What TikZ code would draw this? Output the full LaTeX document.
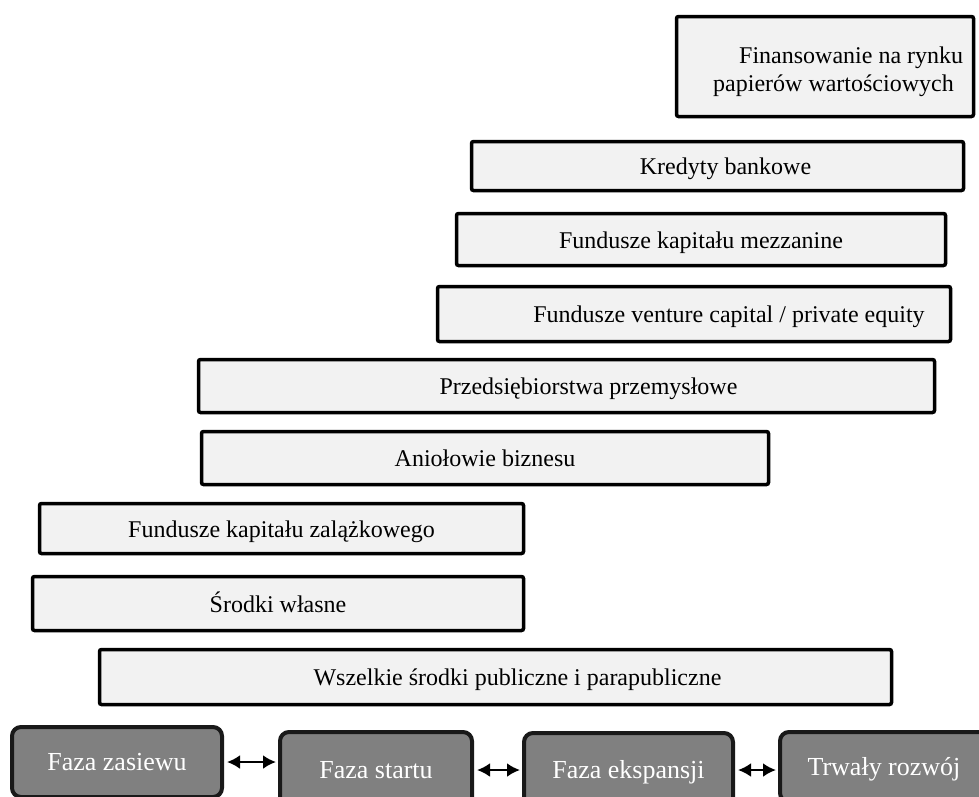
\documentclass[tikz,border=0pt]{standalone}
\usepackage{fontspec}
\setmainfont{Liberation Serif}
\usetikzlibrary{arrows.meta}
\definecolor{boxgray}{HTML}{F2F2F2}
\definecolor{phasegray}{HTML}{808080}
\tikzset{
  fundbox/.style={rectangle, draw=black, line width=3.5pt, rounded corners=2pt, fill=boxgray, font=\fontsize{24}{29}\selectfont, inner sep=0pt, text height=17pt, text depth=0pt},
  fundtext/.style={font=\fontsize{24}{29}\selectfont, inner sep=0pt, anchor=base west},
  phasebox/.style={rectangle, draw=black!90, line width=4pt, rounded corners=9pt, fill=phasegray, text=white, font=\fontsize{26}{30}\selectfont, inner sep=0pt, text height=17pt, text depth=0pt},
  phasearrow/.style={line width=2.5pt, {Latex[length=13pt,width=14pt]}-{Latex[length=13pt,width=14pt]}, shorten <=3pt, shorten >=2pt}
}

\begin{document}
\begin{tikzpicture}[x=1pt,y=-1pt]

	\useasboundingbox (0,0) rectangle (979,796);
	\clip (0,0) rectangle (979,796);

	% sources of financing
	\node[fundbox, minimum width=297, minimum height=100] (fin) at (825,66.5) {};
	\node[fundtext] (finline1) at (739,63) {Finansowanie na rynku};
	\node[fundtext] (finline2) at (713,91) {papierów wartościowych};
	\node[fundbox, minimum width=492, minimum height=49] (kred) at (717.5,166) {\hspace*{16pt}Kredyty bankowe};
	\node[fundbox, minimum width=489, minimum height=52] (mezz) at (701,239.5) {Fundusze kapitału mezzanine};
	\node[fundbox, minimum width=513, minimum height=55] (vc) at (694,314) {\hspace*{70pt}Fundusze venture capital / private equity};
	\node[fundbox, minimum width=736, minimum height=53] (przed) at (566.5,386) {\hspace*{44pt}Przedsiębiorstwa przemysłowe};
	\node[fundbox, minimum width=567, minimum height=53] (aniol) at (485,458) {Aniołowie biznesu};
	\node[fundbox, minimum width=484, minimum height=50] (zal) at (281.5,528.5) {Fundusze kapitału zalążkowego};
	\node[fundbox, minimum width=491, minimum height=54] (wlasne) at (278,603.5) {Środki własne};
	\node[fundbox, minimum width=792, minimum height=55] (publ) at (495.5,677) {\hspace*{44pt}Wszelkie środki publiczne i parapubliczne};

	% phases
	\node[phasebox, minimum width=210, minimum height=70] (zasiewu) at (117,762) {Faza zasiewu};
	\node[phasebox, minimum width=192, minimum height=76] (startu) at (376,770) {Faza startu};
	\node[phasebox, minimum width=209, minimum height=74] (ekspansji) at (628.5,770) {Faza ekspansji};
	\node[phasebox, minimum width=208, minimum height=70] (trwaly) at (884,767) {Trwały rozwój};

	\draw[phasearrow] (zasiewu.east) -- (zasiewu.east -| startu.west);
	\draw[phasearrow] (startu.east) -- (startu.east -| ekspansji.west);
	\draw[phasearrow] (ekspansji.east) -- (ekspansji.east -| trwaly.west);

\end{tikzpicture}
\end{document}
